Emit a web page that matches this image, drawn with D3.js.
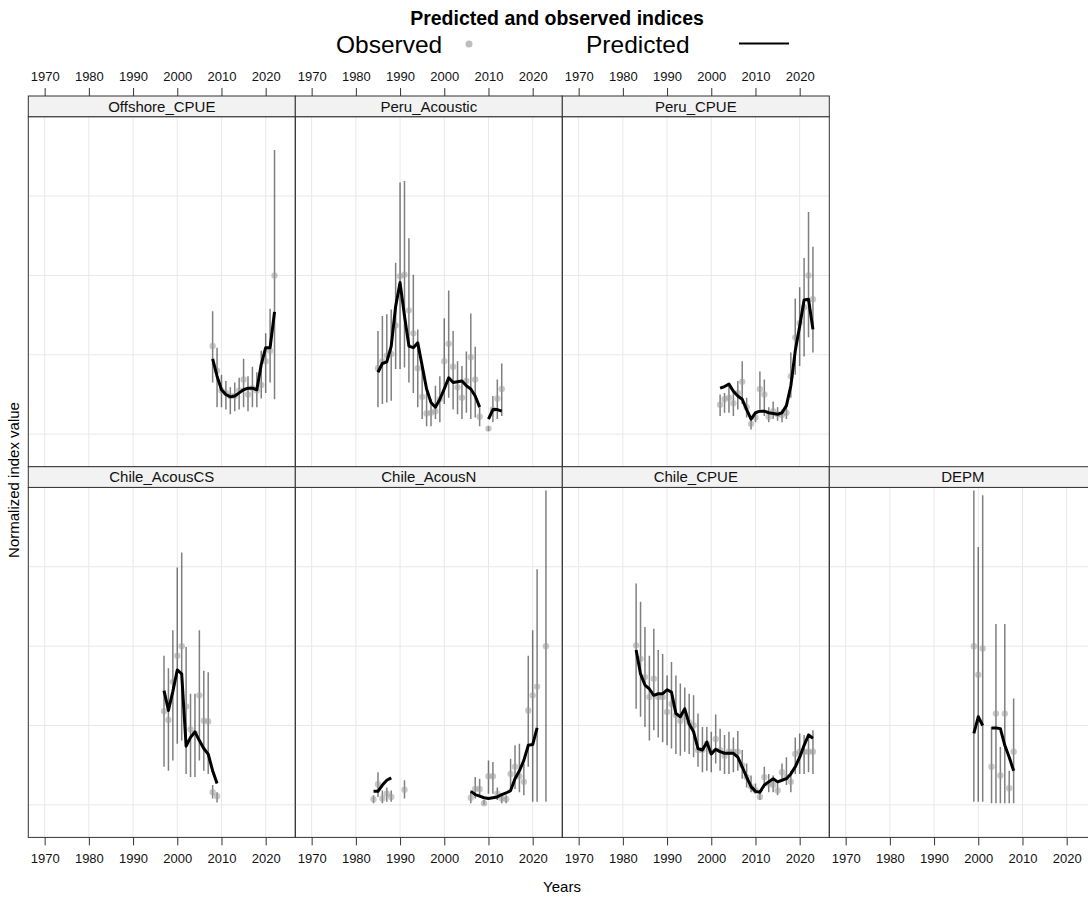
<!DOCTYPE html>
<html><head><meta charset="utf-8">
<script src="https://cdn.jsdelivr.net/npm/d3@7"></script>
<style>body{margin:0;background:#fff}svg{display:block;font-family:"Liberation Sans",Arial,Helvetica,sans-serif}</style>
</head><body><svg id="c" width="1088" height="899"></svg>
<script>
// ---- data ----
const titleText = "Predicted and observed indices";
const xTicks = [1970, 1980, 1990, 2000, 2010, 2020];
const yGrid = [0, 1, 2, 3, 4];

const offshoreYears = [2008,2009,2010,2011,2012,2013,2014,2015,2016,2017,2018,2019,2020,2021,2022];
const offshoreObs  = [1.11,0.80,0.55,0.52,0.48,0.48,0.55,0.69,0.50,0.58,0.55,0.62,0.92,1.05,2.00];
const offshoreLo   = [0.65,0.34,0.34,0.31,0.25,0.29,0.31,0.34,0.29,0.34,0.34,0.45,0.52,0.65,0.44];
const offshoreHi   = [1.55,1.09,0.75,0.67,0.59,0.65,0.71,0.95,0.73,0.85,0.78,1.05,1.27,1.58,3.58];
const offshorePred = [0.95,0.73,0.56,0.50,0.47,0.48,0.52,0.56,0.58,0.58,0.56,0.88,1.09,1.09,1.54];

const peruAcYears = [1985,1986,1987,1988,1989,1990,1991,1992,1993,1994,1995,1996,1997,1998,1999,2000,2001,2002,2003,2004,2005,2006,2007,2008,2009,2010,2011,2012,2013];
const peruAcObs  = [0.83,0.92,0.99,1.01,1.37,1.99,2.01,1.56,1.27,0.83,0.47,0.26,0.27,0.29,0.44,0.92,1.14,0.85,0.59,0.46,0.67,0.97,0.69,0.22,null,0.07,0.31,0.45,0.57];
const peruAcLo   = [0.34,0.38,0.40,0.42,0.82,0.82,0.84,0.65,0.52,0.34,0.19,0.10,0.10,0.19,0.15,0.38,0.46,0.31,0.25,0.19,0.27,0.19,0.21,0.10,null,0.04,0.15,0.19,0.23];
const peruAcHi   = [1.30,1.49,1.51,1.57,2.16,3.17,3.19,2.47,2.01,1.32,0.86,0.52,0.44,0.61,0.73,1.46,1.81,1.30,0.92,0.86,1.04,1.52,1.10,0.34,null,0.10,0.48,0.69,0.89];
const peruAcPred = [0.78,0.89,0.91,1.11,1.61,1.91,1.49,1.11,1.09,1.15,0.86,0.57,0.40,0.34,0.44,0.57,0.71,0.65,0.66,0.67,0.61,0.57,0.48,0.34,null,0.19,0.31,0.31,0.29];

const peruCpueYears = [2002,2003,2004,2005,2006,2007,2008,2009,2010,2011,2012,2013,2014,2015,2016,2017,2018,2019,2020,2021,2022,2023];
const peruCpueObs  = [0.37,0.44,0.46,0.39,0.52,0.66,0.34,0.13,0.21,0.57,0.50,0.22,0.29,0.25,0.24,0.27,0.73,1.22,1.40,1.60,2.00,1.70];
const peruCpueLo   = [0.23,0.27,0.27,0.23,0.31,0.38,0.21,0.06,0.15,0.31,0.23,0.15,0.19,0.17,0.15,0.19,0.46,0.75,0.86,0.98,1.22,1.03];
const peruCpueHi   = [0.50,0.52,0.61,0.57,0.67,0.92,0.46,0.21,0.27,0.79,0.69,0.34,0.41,0.34,0.31,0.36,1.03,1.71,1.85,2.22,2.80,2.36];
const peruCpuePred = [0.58,0.60,0.63,0.54,0.48,0.44,0.31,0.19,0.27,0.29,0.29,0.27,0.26,0.25,0.27,0.36,0.61,1.05,1.36,1.69,1.70,1.32];

const chileCSYears = [1997,1998,1999,2000,2001,2002,2003,2004,2005,2006,2007,2008,2009];
const chileCSObs  = [1.18,1.07,1.55,1.88,2.00,1.24,0.95,0.90,1.38,1.06,1.05,0.16,0.11];
const chileCSLo   = [0.48,0.43,0.56,0.77,0.81,0.39,0.35,0.35,0.56,0.43,0.39,0.08,0.03];
const chileCSHi   = [1.88,1.72,2.20,2.99,3.18,1.99,1.40,1.40,2.20,1.69,1.67,0.25,0.16];
const chileCSPred = [1.44,1.19,1.43,1.70,1.65,0.74,0.85,0.92,0.81,0.71,0.64,0.43,0.27];

const chileNYears = [1984,1985,1986,1987,1988,1991,2006,2007,2008,2009,2010,2011,2012,2013,2014,2015,2016,2017,2018,2019,2020,2021,2023];
const chileNObs  = [0.07,0.26,0.08,0.14,0.10,0.19,0.09,0.20,0.20,0.02,0.36,0.36,0.14,0.08,0.07,0.39,0.48,0.36,0.29,1.19,1.38,1.49,2.00];
const chileNLo   = [0.02,0.10,0.02,0.04,0.04,0.08,0.02,0.08,0.10,0.00,0.14,0.14,0.06,0.02,0.02,0.18,0.20,0.16,0.12,0.48,0.04,0.04,0.04];
const chileNHi   = [0.12,0.41,0.18,0.22,0.18,0.31,0.18,0.35,0.33,0.06,0.56,0.54,0.22,0.14,0.12,0.58,0.75,0.77,0.52,1.88,2.20,2.97,3.96];
const chileNPred = [0.17,0.17,0.25,0.31,0.34,null,0.17,0.13,0.11,0.09,0.08,0.09,0.10,0.13,0.15,0.18,0.33,0.43,0.56,0.75,0.76,0.97,null];

const chileCpueYears = [1983,1984,1985,1986,1987,1988,1989,1990,1991,1992,1993,1994,1995,1996,1997,1998,1999,2000,2001,2002,2003,2004,2005,2006,2007,2008,2009,2010,2011,2012,2013,2014,2015,2016,2017,2018,2019,2020,2021,2022,2023];
const chileCpueObs  = [2.01,1.84,1.61,1.36,1.59,1.36,1.36,1.17,1.27,1.13,1.06,1.11,1.04,1.00,0.69,0.69,0.77,0.67,0.83,0.69,0.62,0.67,0.67,0.67,0.50,0.35,0.23,0.18,0.10,0.35,0.27,0.25,0.18,0.41,0.35,0.29,0.64,0.67,0.67,0.67,0.67];
const chileCpueLo   = [1.21,1.11,0.98,0.81,0.94,0.85,0.79,0.75,0.71,0.64,0.62,0.67,0.64,0.60,0.48,0.41,0.43,0.41,0.52,0.43,0.39,0.39,0.41,0.43,0.33,0.22,0.16,0.14,0.06,0.22,0.16,0.16,0.12,0.33,0.25,0.16,0.39,0.39,0.39,0.41,0.39];
const chileCpueHi   = [2.79,2.56,2.24,1.88,2.22,1.95,1.90,1.63,1.80,1.63,1.53,1.48,1.40,1.38,1.15,0.98,0.98,0.92,1.14,0.96,0.88,0.92,0.85,0.93,0.69,0.52,0.37,0.27,0.18,0.48,0.39,0.37,0.29,0.52,0.60,0.43,0.85,0.90,0.88,0.90,0.94];
const chileCpuePred = [1.95,1.65,1.51,1.46,1.38,1.40,1.40,1.45,1.42,1.15,1.11,1.21,1.02,0.92,0.71,0.69,0.79,0.64,0.70,0.67,0.65,0.65,0.65,0.60,0.48,0.35,0.23,0.17,0.16,0.25,0.29,0.33,0.29,0.31,0.33,0.39,0.48,0.60,0.75,0.88,0.84];

const depmYears = [1999,2000,2001,2002,2003,2004,2005,2006,2007,2008];
const depmObs  = [2.00,1.64,1.97,null,0.48,1.15,0.37,1.15,0.21,0.67];
const depmLo   = [0.04,0.04,0.04,null,0.02,0.02,0.02,0.02,0.02,0.02];
const depmHi   = [3.96,3.25,3.90,null,0.98,2.28,0.73,2.28,0.43,1.34];
const depmPred = [0.90,1.11,1.00,null,0.97,0.97,0.96,0.75,0.60,0.43];

const panelNames = ["Offshore_CPUE","Peru_Acoustic","Peru_CPUE","Chile_AcousCS","Chile_AcousN","Chile_CPUE","DEPM"];
const panelRows  = [0,0,0,1,1,1,1];
const panelCols  = [0,1,2,0,1,2,3];
const panelSeries = [
  [offshoreYears, offshoreObs, offshoreLo, offshoreHi, offshorePred],
  [peruAcYears, peruAcObs, peruAcLo, peruAcHi, peruAcPred],
  [peruCpueYears, peruCpueObs, peruCpueLo, peruCpueHi, peruCpuePred],
  [chileCSYears, chileCSObs, chileCSLo, chileCSHi, chileCSPred],
  [chileNYears, chileNObs, chileNLo, chileNHi, chileNPred],
  [chileCpueYears, chileCpueObs, chileCpueLo, chileCpueHi, chileCpuePred],
  [depmYears, depmObs, depmLo, depmHi, depmPred]
];

// ---- layout ----
const svg = d3.select("#c");
const left0 = 28.3, panelW = 267, panelH = 350, stripH = 20.7, top0 = 96;
const x = d3.scaleLinear().domain([1966.3, 2026.7]).range([0, panelW]);
const y = d3.scaleLinear().domain([-0.41, 4.0]).range([panelH, 0]);
const rowStripTop = r => top0 + r * (stripH + panelH);
const rowPanelTop = r => rowStripTop(r) + stripH;
const colLeft = c => left0 + c * panelW;

// title + legend
svg.append("text").attr("x", 557).attr("y", 25).attr("text-anchor", "middle")
  .attr("font-weight", "bold").attr("font-size", 19.5).text(titleText);
svg.append("text").attr("x", 336).attr("y", 53).attr("font-size", 24.5).text("Observed");
svg.append("circle").attr("cx", 469).attr("cy", 44).attr("r", 3.5).attr("fill", "#bdbdbd");
svg.append("text").attr("x", 586).attr("y", 53).attr("font-size", 24.5).text("Predicted");
svg.append("line").attr("x1", 739).attr("x2", 789).attr("y1", 43.5).attr("y2", 43.5)
  .attr("stroke", "#000").attr("stroke-width", 2);

// axis labels
svg.append("text").attr("x", 562).attr("y", 892).attr("text-anchor", "middle").attr("font-size", 15).text("Years");
svg.append("text").attr("transform", "translate(19,480) rotate(-90)").attr("text-anchor", "middle")
  .attr("font-size", 15).text("Normalized index value");

const line = d3.line().defined(d => d.p != null).x(d => x(d.yr)).y(d => y(d.p));

panelNames.forEach((name, i) => {
  const r = panelRows[i], c = panelCols[i];
  const [yrs, obs, lo, hi, pred] = panelSeries[i];
  const recs = yrs.map((yr, k) => ({yr, o: obs[k], l: lo[k], h: hi[k], p: pred[k]}));
  const cl = colLeft(c);
  const g = svg.append("g").attr("transform", `translate(${cl},${rowPanelTop(r)})`);
  const clipId = "clip" + i;
  g.append("clipPath").attr("id", clipId).append("rect").attr("width", panelW).attr("height", panelH);
  // grid
  g.selectAll(".vg").data(xTicks).join("line").attr("x1", d => x(d)).attr("x2", d => x(d))
    .attr("y1", 0).attr("y2", panelH).attr("stroke", "#e8e8e8").attr("stroke-width", 1);
  g.selectAll(".hg").data(yGrid).join("line").attr("x1", 0).attr("x2", panelW)
    .attr("y1", d => y(d)).attr("y2", d => y(d)).attr("stroke", "#e8e8e8").attr("stroke-width", 1);
  const inner = g.append("g").attr("clip-path", `url(#${clipId})`);
  const valid = recs.filter(d => d.o != null);
  inner.selectAll(".eb").data(valid).join("line")
    .attr("x1", d => x(d.yr)).attr("x2", d => x(d.yr))
    .attr("y1", d => y(d.l)).attr("y2", d => y(d.h))
    .attr("stroke", "#000").attr("stroke-opacity", 0.5).attr("stroke-width", 1.5);
  inner.selectAll(".pt").data(valid).join("circle")
    .attr("cx", d => x(d.yr)).attr("cy", d => y(d.o)).attr("r", 3.2)
    .attr("fill", "#9a9a9a").attr("fill-opacity", 0.55);
  inner.append("path").datum(recs).attr("d", line).attr("fill", "none")
    .attr("stroke", "#000").attr("stroke-width", 3).attr("stroke-linejoin", "round");
  // border
  g.append("rect").attr("width", panelW).attr("height", panelH).attr("fill", "none")
    .attr("stroke", "#333").attr("stroke-width", 1);
  // strip
  const st = svg.append("g").attr("transform", `translate(${cl},${rowStripTop(r)})`);
  st.append("rect").attr("width", panelW).attr("height", stripH).attr("fill", "#f2f2f2")
    .attr("stroke", "#333").attr("stroke-width", 1);
  st.append("text").attr("x", panelW / 2).attr("y", stripH / 2 + 5.3).attr("text-anchor", "middle")
    .attr("font-size", 15).attr("fill", "#111").text(name);
});

// top axes (row 0 columns) and bottom axes (row 1 columns)
function drawAxis(c, yPos, orient) {
  const ax = (orient === "top" ? d3.axisTop(x) : d3.axisBottom(x))
    .tickValues(xTicks).tickFormat(d3.format("d")).tickSize(8).tickPadding(orient === "top" ? 7 : 8);
  const g = svg.append("g").attr("transform", `translate(${colLeft(c)},${yPos})`).call(ax);
  g.select(".domain").remove();
  g.selectAll("text").attr("font-size", 13).attr("font-family", "Liberation Sans, Arial, sans-serif").attr("fill", "#111");
  g.selectAll("line").attr("stroke", "#333");
}
[0,1,2].forEach(c => drawAxis(c, rowStripTop(0), "top"));
[0,1,2,3].forEach(c => drawAxis(c, rowPanelTop(1) + panelH, "bottom"));
</script></body></html>
